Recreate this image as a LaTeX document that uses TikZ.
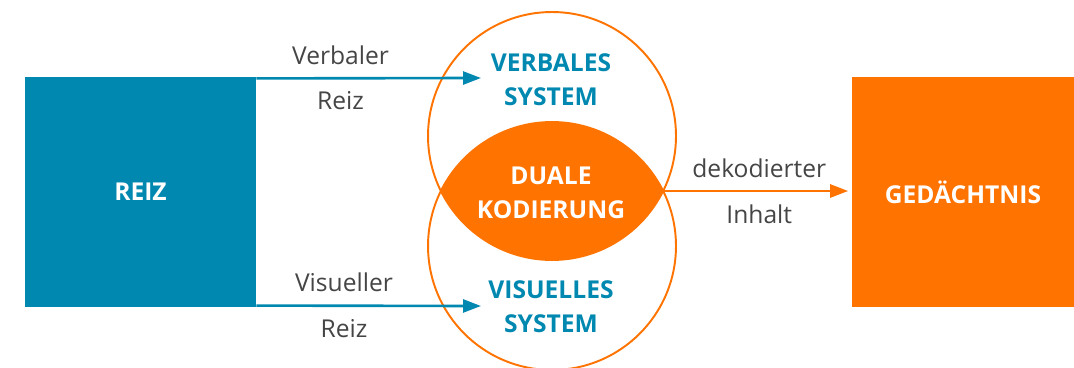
\documentclass[tikz,border=0pt]{standalone}
\usepackage{fontspec}
\setmainfont{Open Sans}
\usetikzlibrary{arrows.meta,positioning}

\definecolor{reizblue}{HTML}{0088B0}
\definecolor{memorange}{HTML}{FF7300}
\definecolor{labelgray}{HTML}{454545}

\tikzset{
    bigbox/.style={minimum height=4.6cm, inner sep=0pt, text=white,
        font=\bfseries\fontsize{14}{19}\selectfont},
    syscircle/.style={circle, draw=memorange, line width=1.1pt,
        minimum size=4.96cm, inner sep=0pt},
    systext/.style={align=center, font=\bfseries\fontsize{14}{19.3}\selectfont},
    arrowlabel/.style={text=labelgray, font=\fontsize{14}{17}\selectfont, inner sep=7pt},
    flow/.style={line width=1.5pt, -{Triangle[length=0.36cm, width=0.26cm]}}
}

\begin{document}
\begin{tikzpicture}[x=0.02cm, y=-0.02cm]
    \useasboundingbox (0, 0) rectangle (1074, 368);
    % boxes
    \node[bigbox, fill=reizblue, minimum width=4.62cm] (reiz) at (140.5, 192) {REIZ};
    \node[bigbox, fill=memorange, minimum width=4.44cm] (gedaechtnis) at (963, 192) {GEDÄCHTNIS};
    % two systems
    \node[syscircle] (verbal) at (552, 136) {};
    \node[syscircle] (visual) at (552, 246) {};
    \begin{scope}
        \clip (552, 136) circle[radius=2.48cm];
        \fill[memorange] (552, 246) circle[radius=2.48cm];
    \end{scope}
    \node[systext, text=reizblue] (verbaltext) at (551, 80) {VERBALES\\SYSTEM};
    \node[systext, text=reizblue] (visualtext) at (551, 307) {VISUELLES\\SYSTEM};
    \node[systext, text=white] (dual) at (551, 193) {DUALE\\KODIERUNG};
    \coordinate (verbalin) at (481, 78);
    \coordinate (visualin) at (481, 306);
    \coordinate (lensright) at (663, 191);
    % arrows
    \draw[flow, reizblue] ([yshift=-1] reiz.north east) -- (verbalin)
        node[arrowlabel, above, pos=0.375] {Verbaler}
        node[arrowlabel, below, pos=0.375] {Reiz};
    \draw[flow, reizblue] ([yshift=1] reiz.south east) -- (visualin)
        node[arrowlabel, above, pos=0.39] {Visueller}
        node[arrowlabel, below, pos=0.39] {Reiz};
    \draw[flow, memorange] (lensright) -- ([xshift=-2] gedaechtnis.west |- lensright)
        node[arrowlabel, above, pos=0.52] {dekodierter}
        node[arrowlabel, below, pos=0.52] {Inhalt};
\end{tikzpicture}
\end{document}
